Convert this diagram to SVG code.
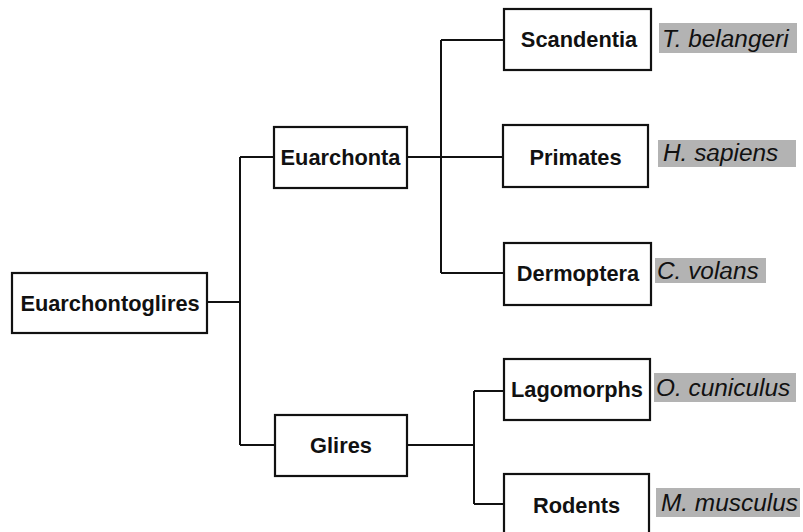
<svg xmlns="http://www.w3.org/2000/svg" width="803" height="532" viewBox="0 0 803 532">
<style>
.box{fill:#fff;stroke:#111;stroke-width:2.2}
.lbl{font-family:"Liberation Sans",Arial,sans-serif;font-weight:bold;font-size:21.8px;fill:#111;text-anchor:middle}
.sp{font-family:"Liberation Sans",Arial,sans-serif;font-style:italic;font-size:24.4px;fill:#111}
.bg{fill:#b3b3b3}
.ln{fill:none;stroke:#111;stroke-width:2}
</style>
<rect width="803" height="532" fill="#fff"/>
<g id="connectors">
<path class="ln" d="M207,302 H240 M240,157 V445 M240,157 H274 M240,445 H275"/>
<path class="ln" d="M407,157 H504 M441,40 V273 M441,40 H504 M441,273 H504"/>
<path class="ln" d="M407,445 H474 M474,391 V504 M474,391 H504 M474,504 H504"/>
</g>
<g id="euarchontoglires"><rect class="box" x="12" y="273" width="195" height="60"/><text class="lbl" x="110" y="311">Euarchontoglires</text></g>
<g id="euarchonta"><rect class="box" x="274" y="127" width="133" height="61"/><text class="lbl" x="340.5" y="165">Euarchonta</text></g>
<g id="glires"><rect class="box" x="275" y="415" width="132" height="61"/><text class="lbl" x="341" y="453">Glires</text></g>
<g id="scandentia"><rect class="box" x="504" y="9" width="147" height="61"/><text class="lbl" x="579" y="47">Scandentia</text></g>
<g id="primates"><rect class="box" x="503" y="125" width="145" height="62"/><text class="lbl" x="575.5" y="165">Primates</text></g>
<g id="dermoptera"><rect class="box" x="504" y="243" width="147" height="62"/><text class="lbl" x="578" y="281">Dermoptera</text></g>
<g id="lagomorphs"><rect class="box" x="504" y="359" width="146" height="61"/><text class="lbl" x="577" y="397">Lagomorphs</text></g>
<g id="rodents"><rect class="box" x="504" y="474" width="145" height="62"/><text class="lbl" x="576.5" y="513">Rodents</text></g>
<g id="t-belangeri"><rect class="bg" x="659" y="23" width="138" height="30"/><text class="sp" x="662" y="47">T. belangeri</text></g>
<g id="h-sapiens"><rect class="bg" x="658" y="140" width="138" height="27"/><text class="sp" x="663" y="161">H. sapiens</text></g>
<g id="c-volans"><rect class="bg" x="655" y="258" width="111" height="25"/><text class="sp" x="657" y="279">C. volans</text></g>
<g id="o-cuniculus"><rect class="bg" x="654" y="373" width="142" height="29"/><text class="sp" x="656" y="396">O. cuniculus</text></g>
<g id="m-musculus"><rect class="bg" x="656" y="488" width="144" height="29"/><text class="sp" x="661" y="511">M. musculus</text></g>
</svg>
